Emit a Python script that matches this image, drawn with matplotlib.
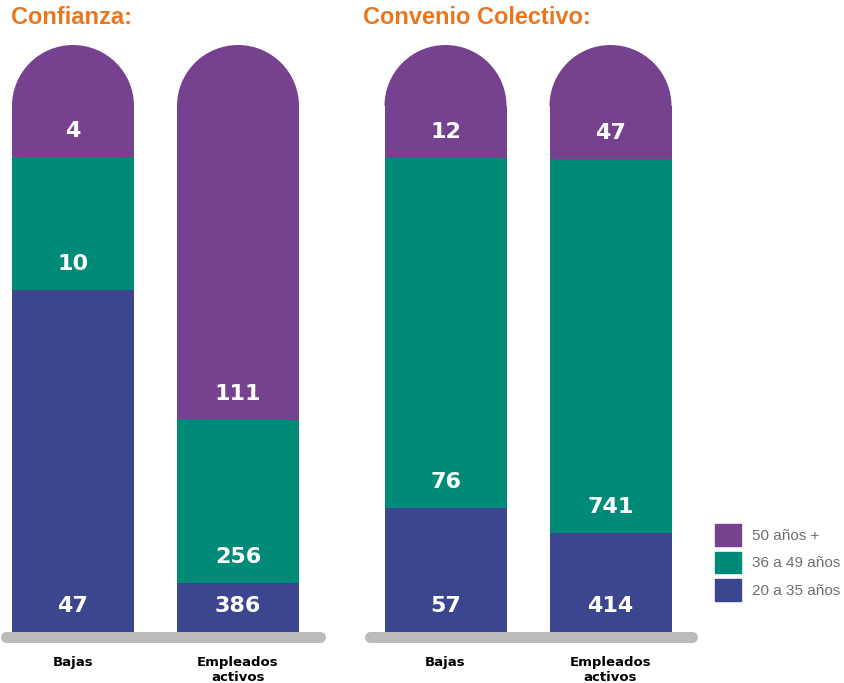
import matplotlib.pyplot as plt
import numpy as np
from matplotlib.patches import Wedge, Patch

# groups, categories and age bands
panels = ["Confianza:", "Convenio Colectivo:"]
categories = ["Bajas", "Empleados\nactivos"]
age_bands = ["20 a 35 años", "36 a 49 años", "50 años +"]
colors = ["#3c468f", "#008a78", "#76418f"]

# printed values, bottom to top (20-35, 36-49, 50+)
confianza_values = [[47, 10, 4], [386, 256, 111]]
convenio_values = [[57, 76, 12], [414, 741, 47]]

# drawn segment heights (the infographic is not to scale), bottom to top
confianza_heights = [[342, 133, 112], [49, 163, 375]]
convenio_heights = [[124, 350, 113], [99, 374, 114]]

W, H = 844, 683
fig = plt.figure(figsize=(W / 100, H / 100), dpi=100)

bar_w = 122
r = bar_w / 2
x0, step = 73, 165
label_off = 26


def panel(left_px, values, heights, base_x, title, title_x):
    # axes in pixel-like units, y = 0 at the bar base
    ax = fig.add_axes([left_px / W, (H - 652) / H, 330 / W, 620 / H])
    ax.set_xlim(0, 330)
    ax.set_ylim(-20, 600)
    xs = x0 + step * np.arange(len(categories))

    for x, vals, hs in zip(xs, values, heights):
        bottom = 0
        n = len(hs)
        for i in range(n):
            h = hs[i] - (r if i == n - 1 else 0)
            ax.bar(x, h, bottom=bottom, width=bar_w, color=colors[i], linewidth=0)
            ax.text(x, bottom + label_off, str(vals[i]), color="white",
                    fontsize=16, fontweight="bold", ha="center", va="center")
            bottom += h
        # rounded top
        ax.add_patch(Wedge((x, bottom), r, 0, 180, color=colors[-1], linewidth=0))

    # grey floor line
    ax.plot(base_x, [-5, -5], color="#bbbbbb", lw=8, solid_capstyle="round",
            clip_on=False, zorder=0)

    ax.set_xticks(xs, categories)
    ax.tick_params(axis="x", length=0, pad=3)
    for t in ax.get_xticklabels():
        t.set_fontweight("bold")
        t.set_fontsize(9.5)
    ax.set_yticks([])
    for s in ax.spines.values():
        s.set_visible(False)
    ax.patch.set_alpha(0)

    fig.text(title_x / W, 1 - 18 / H, title, color="#e87722", fontsize=17,
             fontweight="bold", family=["Liberation Sans", "DejaVu Sans"],
             ha="left", va="center")


panel(0, confianza_values, confianza_heights, [5.5, 319.5], panels[0], 11)
panel(372.5, convenio_values, convenio_heights, [-3, 319], panels[1], 363)

handles = [Patch(color=c, label=l) for c, l in zip(colors[::-1], age_bands[::-1])]
fig.legend(handles=handles, loc="upper left", bbox_to_anchor=(715 / W, 1 - 524 / H),
           frameon=False, borderpad=0, borderaxespad=0,
           handlelength=1.7, handleheight=1.8, labelspacing=0.4,
           handletextpad=0.75, labelcolor="#6e6e6e",
           prop={"family": "Liberation Sans", "size": 11})

fig.savefig("out.png", dpi=100)
